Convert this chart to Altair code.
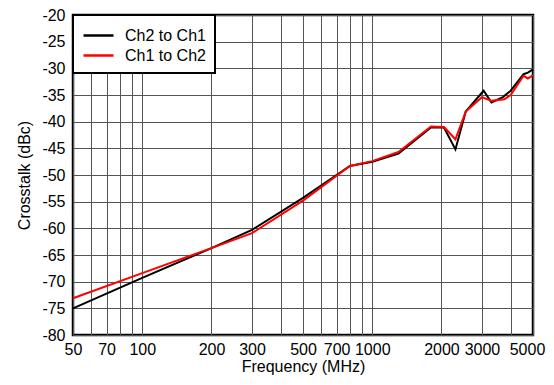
import altair as alt
import pandas as pd

freq_black = [50, 100, 200, 300, 500, 800, 1000, 1300, 1800, 2050, 2300, 2550, 3050, 3300, 3700, 4000, 4550, 4750, 5000]
ch2_to_ch1 = [-75.0, -69.3, -63.7, -60.3, -54.3, -48.3, -47.5, -46.0, -41.1, -41.1, -45.2, -38.1, -34.2, -36.4, -35.4, -34.2, -31.1, -30.8, -30.2]

freq_red = [50, 100, 200, 300, 500, 800, 1000, 1300, 1800, 2050, 2300, 2550, 3000, 3300, 3750, 4000, 4550, 4750, 5000]
ch1_to_ch2 = [-73.1, -68.4, -63.7, -60.9, -54.8, -48.3, -47.4, -45.7, -40.9, -41.0, -43.3, -38.1, -35.4, -36.1, -35.8, -35.0, -31.4, -31.9, -31.3]

series_names = ["Ch2 to Ch1", "Ch1 to Ch2"]
series_colors = ["#000000", "#ff0000"]

grid_x = [50, 60, 70, 80, 90, 100, 200, 300, 400, 500, 600, 700, 800, 900, 1000, 2000, 3000, 4000, 5000]
label_x = [50, 70, 100, 200, 300, 500, 700, 1000, 2000, 3000, 5000]
y_ticks = list(range(-80, -19, 5))

rows = []
for f, v in zip(freq_black, ch2_to_ch1):
    rows.append({"f": f, "v": v, "s": series_names[0]})
for f, v in zip(freq_red, ch1_to_ch2):
    rows.append({"f": f, "v": v, "s": series_names[1]})
df = pd.DataFrame(rows)

label_test = " || ".join(f"datum.value == {v}" for v in label_x)

FONT = "Liberation Sans"

chart = alt.Chart(df).mark_line(strokeWidth=2).encode(
    x=alt.X("f:Q", scale=alt.Scale(type="log", domain=[50, 5000], nice=False),
            axis=alt.Axis(values=grid_x, labelExpr=f"({label_test}) ? '' + datum.value : ''",
                          title="Frequency (MHz)", ticks=False, labelOverlap=False,
                          labelFlush=False, labelPadding=6, titlePadding=1,
                          labelOffset={"condition": {"test": "datum.value == 5000", "value": -6}, "value": 0},
                          gridColor="#555555", gridOpacity=1, gridWidth=1, domain=False)),
    y=alt.Y("v:Q", scale=alt.Scale(domain=[-80, -20], nice=False),
            axis=alt.Axis(values=y_ticks, labelExpr="'' + datum.value", title="Crosstalk (dBc)",
                          ticks=False, labelPadding=8, titlePadding=9,
                          gridColor="#555555", gridOpacity=1, gridWidth=1, domain=False)),
    color=alt.Color("s:N", scale=alt.Scale(domain=series_names, range=series_colors),
                    legend=alt.Legend(title=None, orient="top-left", offset=0,
                                      symbolType="M-1,0H2", symbolSize=400, symbolStrokeWidth=2.5,
                                      strokeColor="black", fillColor="white",
                                      padding=9, labelFontSize=16, labelFont=FONT,
                                      labelOffset=20, labelColor="black", rowPadding=-1)),
    order=alt.Order("f:Q"),
).properties(
    width=460, height=320,
    autosize=alt.AutoSizeParams(type="none"),
    padding={"left": 65, "top": 7, "right": 13, "bottom": 41},
).configure_view(
    stroke="black", strokeWidth=2.5
).configure_axis(
    labelFont=FONT, titleFont=FONT, labelFontSize=16, titleFontSize=16,
    labelColor="black", titleColor="black", titleFontWeight="normal"
).configure_legend(
    strokeWidth=2
)

chart.save("out.html", embed_options={"renderer": "svg", "actions": False})
